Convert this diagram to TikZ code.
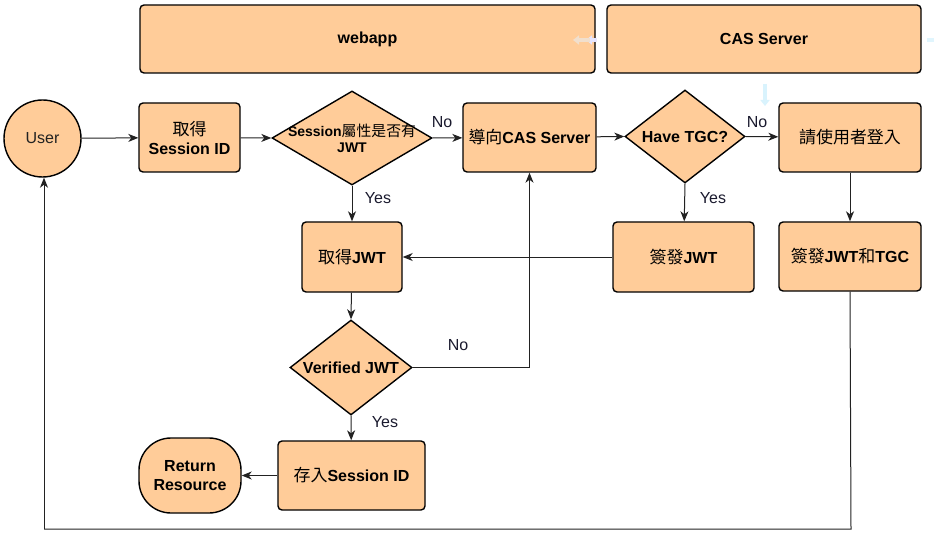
\documentclass[tikz,border=0pt]{standalone}
\usepackage{fontspec}
\setmainfont{Liberation Sans}
\newfontfamily\cjk[Scale=1.06]{Noto Sans CJK TC}
\newcommand\zhtxt[1]{{\cjk\mdseries #1}}
\usetikzlibrary{shapes.geometric,arrows.meta}
\definecolor{fc}{HTML}{FFCC99}
\definecolor{ln}{HTML}{222222}
\definecolor{lbl}{HTML}{1A1A2E}
\begin{document}
\begin{tikzpicture}[x=1pt,y=-1pt,
  box/.style={draw=black, fill=fc, line width=1.4pt, rounded corners=4pt, align=center,
    font=\fontsize{16}{19}\selectfont\bfseries, inner sep=0pt},
  dia/.style={draw=black, fill=fc, line width=1.4pt, diamond, inner sep=0pt},
  arr/.style={draw=ln, line width=1pt, -{Stealth[length=10pt,width=8pt,inset=3pt]}},
  plain/.style={draw=ln, line width=1pt},
  lab/.style={text=lbl, font=\fontsize{16}{19}\selectfont, inner sep=0pt},
  faint/.style={line width=3.5pt, -{Triangle[length=6pt,width=9pt]}}]
\useasboundingbox (0,0) rectangle (934,540);
\fill[white] (0,0) rectangle (934,540);

% lane headers
\node[box, minimum width=455pt, minimum height=68pt] (webapp) at (367.5,39) {webapp};
\node[box, minimum width=314pt, minimum height=68pt] (cas) at (764,39) {CAS Server};

% faint UI arrows
\draw[faint, color=blue!10] (597,40) -- (586,40);
\draw[faint, color=orange!15!brown!25] (590,40) -- (573,40);
\draw[faint, color=cyan!15] (765,84) -- (765,106);
\draw[line width=3.5pt, color=cyan!12] (927,40) -- (934,40);

% nodes
\node[circle, draw=black, fill=fc, line width=1.4pt, minimum size=77pt, inner sep=0pt,
  font=\fontsize{16}{19}\selectfont, text=ln] (user) at (42.5,138.5) {User};
\node[box, minimum width=101pt, minimum height=69pt] (getsid) at (189.5,137.5) {\zhtxt{取得}\\Session ID};
\node[dia, minimum width=160pt, minimum height=94pt,
  label={[align=center, font=\fontsize{14}{16}\selectfont\bfseries, inner sep=0pt]center:Session\zhtxt{屬性是否有}\\JWT}] (d1) at (352,138) {};
\node[box, minimum width=133pt, minimum height=69pt] (redir) at (529.5,137.5) {\zhtxt{導向}CAS Server};
\node[dia, minimum width=120pt, minimum height=93pt,
  label={[font=\fontsize{16}{19}\selectfont\bfseries, inner sep=0pt]center:Have TGC?}] (tgc) at (685,136.5) {};
\node[box, minimum width=142pt, minimum height=69pt] (login) at (850,137.5) {\zhtxt{請使用者登入}};
\node[box, minimum width=100pt, minimum height=70pt] (getjwt) at (352,257) {\zhtxt{取得}JWT};
\node[box, minimum width=141pt, minimum height=70pt] (sign1) at (683.5,257) {\zhtxt{簽發}JWT};
\node[box, minimum width=142pt, minimum height=69pt] (sign2) at (850,256.5) {\zhtxt{簽發}JWT\zhtxt{和}TGC};
\node[dia, minimum width=122pt, minimum height=95pt,
  label={[font=\fontsize{16}{19}\selectfont\bfseries, inner sep=0pt]center:Verified JWT}] (ver) at (351,367.5) {};
\node[box, minimum width=147pt, minimum height=69pt] (store) at (351.5,475.5) {\zhtxt{存入}Session ID};
\node[box, rounded corners=32pt, minimum width=102pt, minimum height=75pt] (ret) at (190,475.5) {Return\\Resource};

% connectors
\draw[arr] (user) -- (getsid);
\draw[arr] (getsid) -- (d1.west);
\draw[arr] (d1.east) -- (redir);
\draw[arr] (d1.south) -- (getjwt);
\draw[arr] (redir) -- (tgc.west);
\draw[arr] (tgc.east) -- (login);
\draw[arr] (tgc.south) -- (sign1);
\draw[arr] (login) -- (sign2);
\draw[arr] (sign1) -- (getjwt);
\draw[arr] (getjwt) -- (ver.north);
\draw[arr] (ver.east) -| (redir.south);
\draw[arr] (ver.south) -- (store);
\draw[arr] (store) -- (ret);
\coordinate (loopR) at (851,529);
\coordinate (loopL) at (44,529);
\draw[plain] (sign2.south) -- (loopR) -- (loopL);
\draw[arr] (loopL) -- (user.south -| loopL);

% labels
\node[lab] (l1) at (442,122) {No};
\node[lab] (l2) at (378,198) {Yes};
\node[lab] (l3) at (757,122) {No};
\node[lab] (l4) at (713,198) {Yes};
\node[lab] (l5) at (458,345) {No};
\node[lab] (l6) at (385,422) {Yes};
\end{tikzpicture}
\end{document}
